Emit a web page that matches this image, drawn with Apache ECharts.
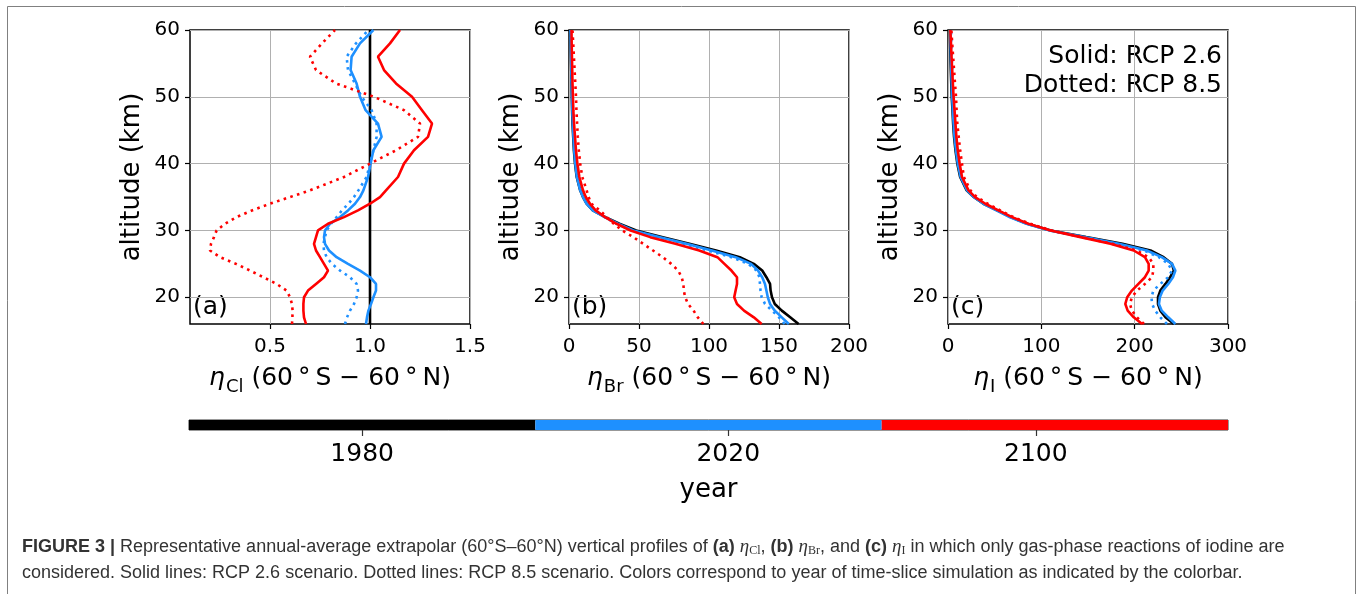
<!doctype html>
<html lang="en">
<head>
<meta charset="utf-8">
<title>extrapolar eta profiles</title>
<script src="https://cdn.jsdelivr.net/npm/echarts@6/dist/echarts.min.js"></script>
<style>
html, body { margin: 0; padding: 0; background: #fff; }
#chart { width: 1360px; height: 594px; }
</style>
</head>
<body>
<div id="chart"></div>
<script>
// altitude levels (km), shared by every profile
var alt = [16, 17, 18, 19, 20, 21, 22, 23, 24, 25, 26, 27, 28, 29, 30, 31, 32, 33, 34, 35, 36, 38, 40, 42, 44, 46, 48, 50, 52, 54, 56, 58, 60];

// (a) eta_Cl
var clBlack  = [1, 1, 1, 1, 1, 1, 1, 1, 1, 1, 1, 1, 1, 1, 1, 1, 1, 1, 1, 1, 1, 1, 1, 1, 1, 1, 1, 1, 1, 1, 1, 1, 1];
var clBlue26 = [0.98, 0.985, 0.992, 1.005, 1.017, 1.03, 1.03, 1.0, 0.95, 0.89, 0.833, 0.795, 0.775, 0.77, 0.775, 0.8, 0.85, 0.89, 0.925, 0.95, 0.967, 0.99, 1.003, 1.017, 1.058, 1.04, 0.978, 0.95, 0.933, 0.903, 0.908, 0.95, 1.017];
var clBlue85 = [0.875, 0.885, 0.9, 0.92, 0.933, 0.94, 0.933, 0.9, 0.85, 0.81, 0.783, 0.77, 0.767, 0.775, 0.783, 0.805, 0.833, 0.86, 0.892, 0.92, 0.942, 0.983, 1.0, 1.017, 1.033, 1.033, 1.008, 0.958, 0.925, 0.89, 0.883, 0.93, 0.992];
var clRed26  = [0.68, 0.67, 0.667, 0.667, 0.67, 0.69, 0.73, 0.77, 0.79, 0.77, 0.75, 0.73, 0.72, 0.73, 0.74, 0.79, 0.87, 0.94, 1.0, 1.05, 1.08, 1.14, 1.17, 1.22, 1.29, 1.31, 1.26, 1.21, 1.13, 1.07, 1.04, 1.1, 1.15];
var clRed85  = [0.61, 0.612, 0.613, 0.61, 0.6, 0.583, 0.533, 0.467, 0.4, 0.33, 0.25, 0.2, 0.205, 0.22, 0.233, 0.275, 0.333, 0.41, 0.5, 0.6, 0.7, 0.87, 1.0, 1.13, 1.24, 1.25, 1.17, 1.02, 0.83, 0.73, 0.7, 0.76, 0.825];

// (b) eta_Br
var brBlack  = [164, 158, 152, 147, 145, 144, 143.6, 141, 138, 132, 122, 105, 86, 67, 48, 36, 26, 17, 12.6, 10, 8, 5.5, 4.3, 3.5, 3, 2.5, 2.2, 2, 1.8, 1.6, 1.4, 1.2, 1];
var brBlue26 = [157, 152, 147, 143.6, 142, 141, 140, 138, 135, 130, 119, 102, 84, 65, 46, 35, 25.5, 17, 12.5, 10, 8, 5.6, 4.5, 3.7, 3.2, 2.7, 2.4, 2.1, 1.9, 1.7, 1.5, 1.3, 1.1];
var brBlue85 = [154, 150, 145, 140, 137.6, 136.8, 136.4, 136, 134, 128, 116, 99, 82, 63, 45, 34, 25.5, 18, 13.5, 11, 9, 6.5, 5.2, 4.3, 3.7, 3.2, 2.8, 2.5, 2.2, 2, 1.8, 1.6, 1.4];
var brRed26  = [137.6, 132, 125, 120, 118, 119, 120, 120, 116, 111, 106, 93, 76, 58, 44, 34, 25.7, 19, 15, 12, 10, 7.4, 6, 5, 4.3, 3.6, 3.1, 2.8, 2.5, 2.3, 2.1, 1.9, 1.8];
var brRed85  = [96, 92, 89, 85, 83, 82, 81.7, 80.5, 78, 73, 67, 60, 53, 46, 38, 32, 27, 22, 16, 14, 12.6, 9.5, 8, 7, 6.3, 5.8, 5.3, 5, 4.5, 4, 3.5, 3, 2.5];

// (c) eta_I
var iBlack  = [242, 233, 227.5, 225, 225, 227.5, 233, 238, 242, 240, 231, 217, 187, 148, 110, 85, 67, 52.5, 38, 27.5, 20, 13, 10, 8, 6.5, 5.5, 4.8, 4, 3.5, 3, 2.6, 2.3, 2];
var iBlue26 = [243.6, 236, 229, 226, 227, 230, 236, 241, 243.6, 240, 229, 213, 183, 146, 109, 84, 66, 52, 38, 27.5, 20.5, 13.5, 10.5, 8.5, 7, 6, 5.2, 4.5, 4, 3.5, 3.1, 2.8, 2.5];
var iBlue85 = [234.6, 227.5, 222, 218.6, 218, 220, 227.5, 236, 240, 236, 226, 210, 181, 145, 109, 85, 67, 53, 39, 29, 22, 15, 12, 10, 8.5, 7.5, 6.5, 5.8, 5.2, 4.6, 4, 3.6, 3.2];
var iRed26  = [208, 199, 192.5, 190, 192, 197, 204, 211, 215, 215, 211, 199, 174, 142, 110, 86, 68.6, 54, 40, 29, 22, 15, 12.5, 10.5, 9, 8, 7, 6, 5.2, 4.5, 3.8, 3.2, 2.5];
var iRed85  = [210, 202.5, 197, 195, 197, 202.5, 211, 218.6, 220, 220, 215, 202, 176, 143, 111, 88, 70, 56, 42.5, 31, 24, 17, 15, 13, 11.5, 10, 9.2, 8.6, 7.5, 6.5, 5.5, 4.5, 3.6];

var altTicks = [20, 30, 40, 50, 60];
var clTicks = [0.5, 1.0, 1.5];

// colorbar: three equal segments, tick positions in segment units
var cbColors = ['#000000', '#1e90ff', '#ff0000'];
var cbSegments = [1, 1, 1];
var cbTickPos = [0.5, 1.557, 2.445];
var cbTickLabels = ['1980', '2020', '2100'];

var BLACK = '#000000', BLUE = '#1e90ff', RED = '#ff0000';
var FONT = 'DejaVu Sans';

var myChart = echarts.init(document.getElementById('chart'), null, {renderer: 'canvas'});

function profile(vals, idx, color, dotted) {
    return {
        type: 'line',
        xAxisIndex: idx,
        yAxisIndex: idx,
        data: vals.map(function (v, i) { return [v, alt[i]]; }),
        symbol: 'none',
        smooth: false,
        lineStyle: {color: color, width: 2.6, type: dotted ? [2.6, 4.4] : 'solid', cap: 'butt'}
    };
}

function yAxisFor(idx) {
    return {
        type: 'value', gridIndex: idx, min: 16, max: 60,
        name: 'altitude (km)', nameLocation: 'middle', nameGap: 45, nameRotate: 90,
        nameTextStyle: {fontFamily: FONT, fontSize: 26, color: '#000'},
        axisLine: {show: false},
        axisTick: {show: true, length: 5, lineStyle: {color: '#000', width: 1.2}, customValues: altTicks},
        axisLabel: {customValues: altTicks, fontFamily: FONT, fontSize: 20, color: '#000', margin: 10},
        splitLine: {show: true, lineStyle: {color: '#b0b0b0', width: 1}}
    };
}

function etaName(sub) {
    return '{i|η}{s|' + sub + '}{n| (60\u2009°\u2009S − 60\u2009°\u2009N)}';
}

var nameRich = {
    i: {fontFamily: FONT, fontStyle: 'italic', fontSize: 25, color: '#000', verticalAlign: 'top'},
    s: {fontFamily: FONT, fontSize: 18, color: '#000', verticalAlign: 'top', padding: [12, 0, 0, 1]},
    n: {fontFamily: FONT, fontSize: 25, color: '#000', verticalAlign: 'top'}
};

function xAxisFor(idx, sub, min, max, interval, custom) {
    var ax = {
        type: 'value', gridIndex: idx, min: min, max: max,
        name: etaName(sub), nameLocation: 'middle', nameGap: 42,
        nameTextStyle: {rich: nameRich},
        axisLine: {show: false},
        axisTick: {show: true, length: 5, lineStyle: {color: '#000', width: 1.2}},
        axisLabel: {fontFamily: FONT, fontSize: 20, color: '#000', margin: 13, showMinLabel: true, showMaxLabel: true},
        splitLine: {show: true, lineStyle: {color: '#b0b0b0', width: 1}}
    };
    if (custom) {
        ax.axisTick.customValues = custom;
        ax.axisLabel.customValues = custom;
        ax.axisLabel.formatter = function (v) { return v.toFixed(1); };
    } else {
        ax.interval = interval;
    }
    return ax;
}

var panelGrid = {top: 30, height: 294, width: 280, show: true, borderColor: '#000', borderWidth: 1.5, backgroundColor: 'transparent'};

var captionRich = {
    b: {fontFamily: 'Liberation Sans', fontWeight: 'bold', fontSize: 18, fill: '#333'},
    e: {fontFamily: 'Liberation Serif', fontStyle: 'italic', fontSize: 19, fill: '#333'},
    s: {fontFamily: 'Liberation Serif', fontSize: 12, fill: '#333', padding: [7, 0, 0, 0]}
};

function captionText(x, y, text) {
    return {
        type: 'text', x: x, y: y, silent: true,
        style: {text: text, fontFamily: 'Liberation Sans', fontSize: 18, fill: '#333', verticalAlign: 'middle', rich: captionRich}
    };
}

function plainText(x, y, text, align) {
    return {
        type: 'text', x: x, y: y, silent: true,
        style: {text: text, fontFamily: FONT, fontSize: 25, fill: '#000', align: align, verticalAlign: 'middle'}
    };
}

var option = {
    animation: false,
    backgroundColor: '#fff',
    grid: [
        Object.assign({left: 190}, panelGrid),
        Object.assign({left: 569}, panelGrid),
        Object.assign({left: 948}, panelGrid),
        {left: 189, top: 420, width: 1039, height: 10, show: true, borderColor: '#333', borderWidth: 1}
    ],
    xAxis: [
        xAxisFor(0, 'Cl', 0.1, 1.5, null, clTicks),
        xAxisFor(1, 'Br', 0, 200, 50),
        xAxisFor(2, 'I', 0, 300, 100),
        {
            type: 'value', gridIndex: 3, min: 0, max: 3,
            name: 'year', nameLocation: 'middle', nameGap: 47,
            nameTextStyle: {fontFamily: FONT, fontSize: 26, color: '#000'},
            axisLine: {show: false},
            splitLine: {show: false},
            axisTick: {show: true, length: 6, lineStyle: {color: '#333', width: 1.2}, customValues: cbTickPos},
            axisLabel: {
                customValues: cbTickPos, fontFamily: FONT, fontSize: 25, color: '#000', margin: 12,
                formatter: function (v) { return cbTickLabels[cbTickPos.indexOf(v)]; }
            }
        }
    ],
    yAxis: [
        yAxisFor(0),
        yAxisFor(1),
        yAxisFor(2),
        {type: 'category', gridIndex: 3, data: ['cb'], show: false}
    ],
    series: [
        profile(clBlack, 0, BLACK, false),
        profile(clBlue85, 0, BLUE, true),
        profile(clBlue26, 0, BLUE, false),
        profile(clRed85, 0, RED, true),
        profile(clRed26, 0, RED, false),

        profile(brBlack, 1, BLACK, false),
        profile(brBlue85, 1, BLUE, true),
        profile(brBlue26, 1, BLUE, false),
        profile(brRed85, 1, RED, true),
        profile(brRed26, 1, RED, false),

        profile(iBlack, 2, BLACK, false),
        profile(iBlue85, 2, BLUE, true),
        profile(iBlue26, 2, BLUE, false),
        profile(iRed85, 2, RED, true),
        profile(iRed26, 2, RED, false)
    ].concat(cbSegments.map(function (v, k) {
        return {
            type: 'bar', xAxisIndex: 3, yAxisIndex: 3, stack: 'cb', barWidth: '100%',
            data: [v], itemStyle: {color: cbColors[k]}, silent: true
        };
    })),
    graphic: [
        {type: 'rect', silent: true, shape: {x: 7.5, y: 6.5, width: 1348, height: 620},
         style: {fill: 'none', stroke: '#808080', lineWidth: 1}},
        plainText(193, 307, '(a)', 'left'),
        plainText(572, 307, '(b)', 'left'),
        plainText(951, 307, '(c)', 'left'),
        plainText(1222, 56, 'Solid: RCP 2.6', 'right'),
        plainText(1222, 85, 'Dotted: RCP 8.5', 'right'),
        captionText(22, 547, '{b|FIGURE 3 |} Representative annual-average extrapolar (60°S–60°N) vertical profiles of {b|(a)} {e|η}{s|Cl}, {b|(b)} {e|η}{s|Br}, and {b|(c)} {e|η}{s|I} in which only gas-phase reactions of iodine are'),
        captionText(22, 573, 'considered. Solid lines: RCP 2.6 scenario. Dotted lines: RCP 8.5 scenario. Colors correspond to year of time-slice simulation as indicated by the colorbar.')
    ]
};

myChart.setOption(option);
</script>
</body>
</html>
